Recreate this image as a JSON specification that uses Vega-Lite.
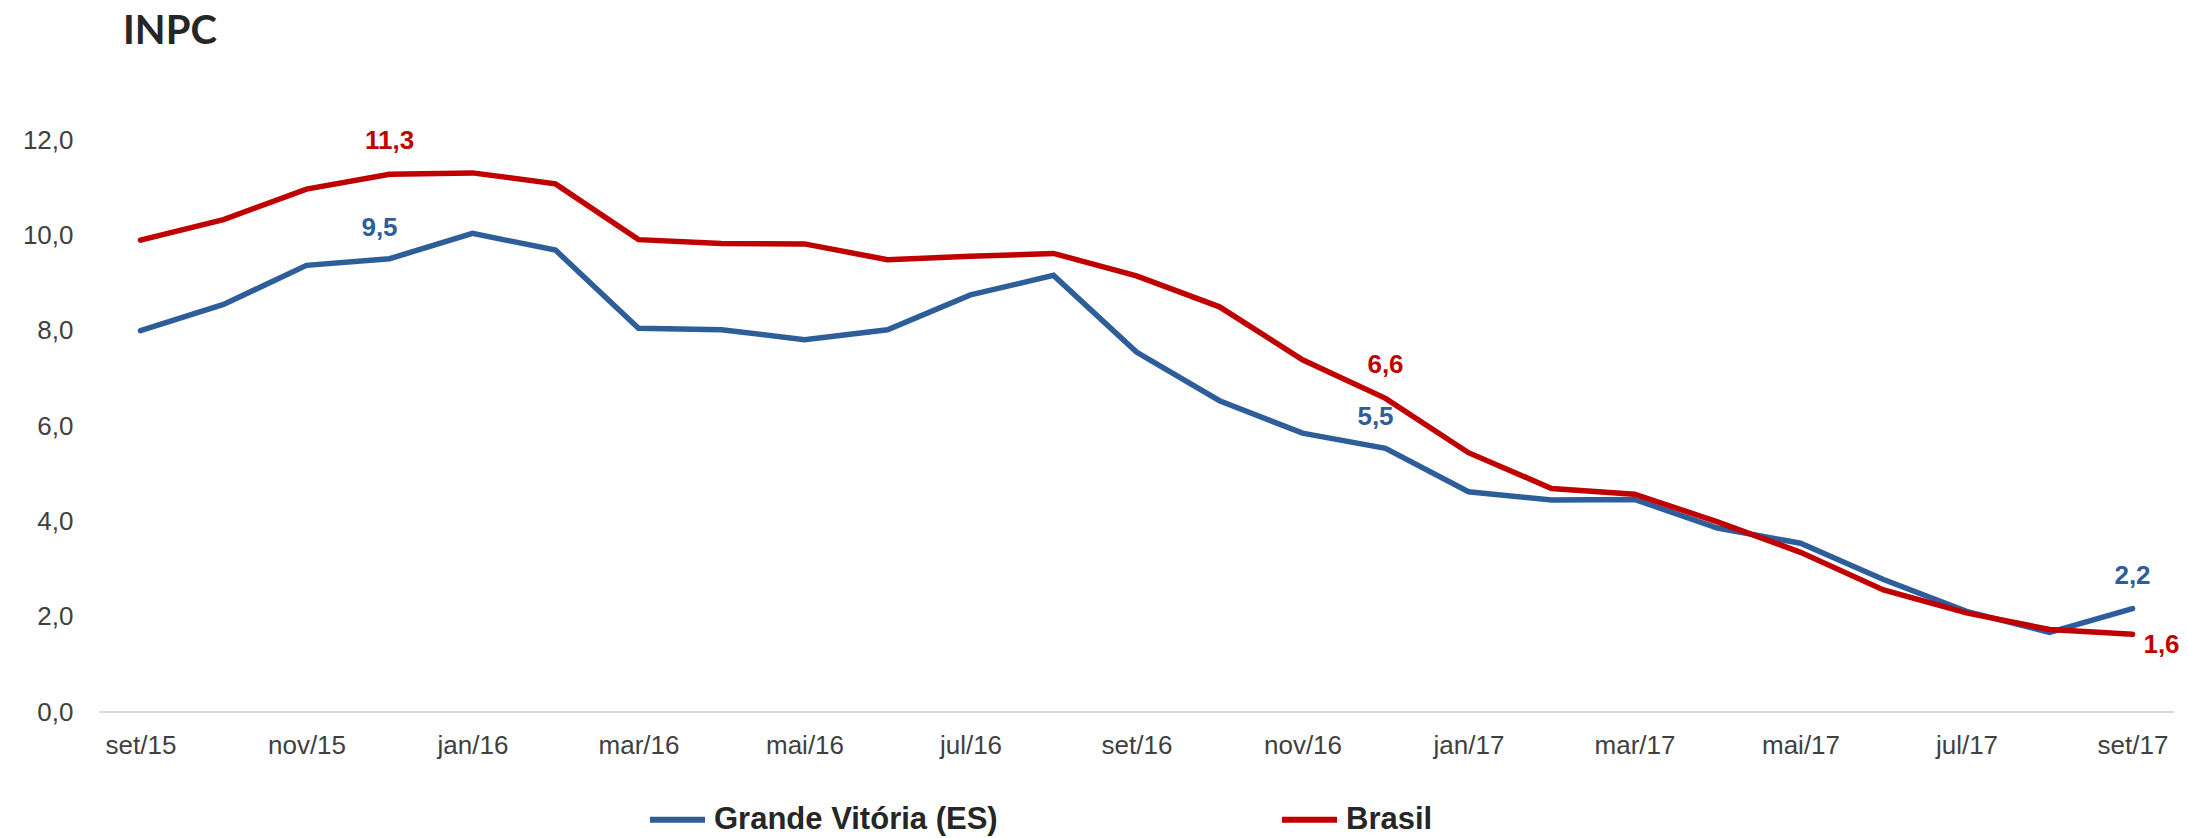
{
  "$schema": "https://vega.github.io/schema/vega-lite/v6.json",
  "autosize": {"type": "none"},
  "width": 2075,
  "height": 572,
  "padding": {"left": 99, "top": 140, "right": 14, "bottom": 126},
  "background": "white",
  "config": {
    "locale": {"number": {"decimal": ",", "thousands": ".", "grouping": [3], "currency": ["R$", ""]}},
    "view": {"stroke": null},
    "font": "Liberation Sans"
  },
  "title": {
    "text": "INPC",
    "anchor": "start",
    "frame": "group",
    "font": "Lato",
    "fontWeight": "bold",
    "fontSize": 40,
    "color": "#262626",
    "dx": 24,
    "offset": 75
  },
  "data": {
    "values": [
      {"month": "set/15", "series": "Grande Vitória (ES)", "value": 8.0},
      {"month": "out/15", "series": "Grande Vitória (ES)", "value": 8.55},
      {"month": "nov/15", "series": "Grande Vitória (ES)", "value": 9.37},
      {"month": "dez/15", "series": "Grande Vitória (ES)", "value": 9.51},
      {"month": "jan/16", "series": "Grande Vitória (ES)", "value": 10.04},
      {"month": "fev/16", "series": "Grande Vitória (ES)", "value": 9.69},
      {"month": "mar/16", "series": "Grande Vitória (ES)", "value": 8.05},
      {"month": "abr/16", "series": "Grande Vitória (ES)", "value": 8.02},
      {"month": "mai/16", "series": "Grande Vitória (ES)", "value": 7.81},
      {"month": "jun/16", "series": "Grande Vitória (ES)", "value": 8.02},
      {"month": "jul/16", "series": "Grande Vitória (ES)", "value": 8.75},
      {"month": "ago/16", "series": "Grande Vitória (ES)", "value": 9.16},
      {"month": "set/16", "series": "Grande Vitória (ES)", "value": 7.55},
      {"month": "out/16", "series": "Grande Vitória (ES)", "value": 6.53},
      {"month": "nov/16", "series": "Grande Vitória (ES)", "value": 5.85},
      {"month": "dez/16", "series": "Grande Vitória (ES)", "value": 5.53},
      {"month": "jan/17", "series": "Grande Vitória (ES)", "value": 4.62},
      {"month": "fev/17", "series": "Grande Vitória (ES)", "value": 4.45},
      {"month": "mar/17", "series": "Grande Vitória (ES)", "value": 4.46},
      {"month": "abr/17", "series": "Grande Vitória (ES)", "value": 3.86},
      {"month": "mai/17", "series": "Grande Vitória (ES)", "value": 3.54},
      {"month": "jun/17", "series": "Grande Vitória (ES)", "value": 2.78},
      {"month": "jul/17", "series": "Grande Vitória (ES)", "value": 2.11},
      {"month": "ago/17", "series": "Grande Vitória (ES)", "value": 1.67},
      {"month": "set/17", "series": "Grande Vitória (ES)", "value": 2.17},
      {"month": "set/15", "series": "Brasil", "value": 9.9},
      {"month": "out/15", "series": "Brasil", "value": 10.33},
      {"month": "nov/15", "series": "Brasil", "value": 10.97},
      {"month": "dez/15", "series": "Brasil", "value": 11.28},
      {"month": "jan/16", "series": "Brasil", "value": 11.31},
      {"month": "fev/16", "series": "Brasil", "value": 11.08},
      {"month": "mar/16", "series": "Brasil", "value": 9.91},
      {"month": "abr/16", "series": "Brasil", "value": 9.83},
      {"month": "mai/16", "series": "Brasil", "value": 9.82},
      {"month": "jun/16", "series": "Brasil", "value": 9.49},
      {"month": "jul/16", "series": "Brasil", "value": 9.56},
      {"month": "ago/16", "series": "Brasil", "value": 9.62},
      {"month": "set/16", "series": "Brasil", "value": 9.15},
      {"month": "out/16", "series": "Brasil", "value": 8.5},
      {"month": "nov/16", "series": "Brasil", "value": 7.39},
      {"month": "dez/16", "series": "Brasil", "value": 6.58},
      {"month": "jan/17", "series": "Brasil", "value": 5.44},
      {"month": "fev/17", "series": "Brasil", "value": 4.69},
      {"month": "mar/17", "series": "Brasil", "value": 4.57},
      {"month": "abr/17", "series": "Brasil", "value": 3.99},
      {"month": "mai/17", "series": "Brasil", "value": 3.35},
      {"month": "jun/17", "series": "Brasil", "value": 2.56},
      {"month": "jul/17", "series": "Brasil", "value": 2.08},
      {"month": "ago/17", "series": "Brasil", "value": 1.73},
      {"month": "set/17", "series": "Brasil", "value": 1.63}
    ]
  },
  "encoding": {
    "x": {
      "field": "month",
      "type": "ordinal",
      "sort": null,
      "scale": {"type": "point", "padding": 0.5},
      "axis": {
        "title": null,
        "values": ["set/15", "nov/15", "jan/16", "mar/16", "mai/16", "jul/16", "set/16", "nov/16", "jan/17", "mar/17", "mai/17", "jul/17", "set/17"],
        "labelAngle": 0,
        "labelFont": "Liberation Sans",
        "labelFontSize": 26,
        "labelColor": "#404040",
        "labelPadding": 20,
        "ticks": false,
        "domain": false,
        "grid": false
      }
    },
    "y": {
      "field": "value",
      "type": "quantitative",
      "scale": {"domain": [0, 12], "nice": false},
      "axis": {
        "title": null,
        "values": [0, 2, 4, 6, 8, 10, 12],
        "format": ".1f",
        "labelFont": "Liberation Sans",
        "labelFontSize": 26,
        "labelColor": "#404040",
        "labelPadding": 26,
        "ticks": false,
        "domain": false,
        "grid": false
      }
    },
    "color": {
      "field": "series",
      "type": "nominal",
      "scale": {"domain": ["Grande Vitória (ES)", "Brasil"], "range": ["#2E5E9A", "#C00000"]},
      "legend": {
        "title": null,
        "orient": "none",
        "direction": "horizontal",
        "legendX": 548,
        "legendY": 649,
        "padding": 0,
        "symbolType": "stroke",
        "symbolSize": 3025,
        "symbolStrokeWidth": 6,
        "labelFont": "Liberation Sans",
        "labelFontWeight": "bold",
        "labelFontSize": 31,
        "labelColor": "#262626",
        "labelOffset": 6,
        "columnPadding": 272,
        "labelLimit": 500
      }
    }
  },
  "layer": [
    {
      "mark": {"type": "rule", "color": "#D9D9D9", "strokeWidth": 2},
      "encoding": {"y": {"datum": 0}, "x": null, "color": null}
    },
    {
      "mark": {"type": "line", "strokeWidth": 5.5, "strokeCap": "round", "strokeJoin": "miter"}
    },
    {
      "transform": [{"filter": "(datum.series == 'Brasil' && indexof(['dez/15','dez/16'], datum.month) >= 0) || (datum.series != 'Brasil' && datum.month == 'set/17')"}],
      "mark": {"type": "text", "fontWeight": "bold", "fontSize": 26, "font": "Liberation Sans", "dy": -33, "baseline": "middle", "align": "center"},
      "encoding": {"text": {"field": "value", "type": "quantitative", "format": ".1f"}}
    },
    {
      "transform": [{"filter": "datum.series != 'Brasil' && indexof(['dez/15','dez/16'], datum.month) >= 0"}],
      "mark": {"type": "text", "fontWeight": "bold", "fontSize": 26, "font": "Liberation Sans", "dx": -10, "dy": -31, "baseline": "middle", "align": "center"},
      "encoding": {"text": {"field": "value", "type": "quantitative", "format": ".1f"}}
    },
    {
      "transform": [{"filter": "datum.series == 'Brasil' && datum.month == 'set/17'"}],
      "mark": {"type": "text", "fontWeight": "bold", "fontSize": 26, "font": "Liberation Sans", "dx": 29, "dy": 11, "baseline": "middle", "align": "center"},
      "encoding": {"text": {"field": "value", "type": "quantitative", "format": ".1f"}}
    }
  ]
}
